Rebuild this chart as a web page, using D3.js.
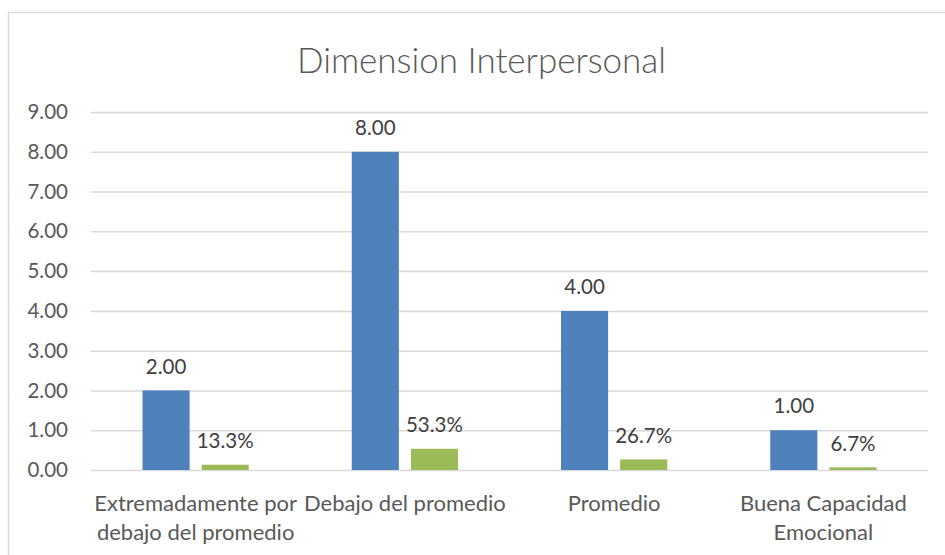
<!DOCTYPE html>
<html>
<head>
<meta charset="utf-8">
<script src="https://cdn.jsdelivr.net/npm/d3@7"></script>
<style>
  html, body { margin: 0; padding: 0; background: #fff; }
  svg { display: block; }
  text { font-family: Lato, "Open Sans", sans-serif; fill: #595959; }
</style>
</head>
<body>
<svg id="chart" width="945" height="555"></svg>
<script>
// Category names and the lines each axis label is broken into
const categories = [
  "Extremadamente por debajo del promedio",
  "Debajo del promedio",
  "Promedio",
  "Buena Capacidad Emocional"
];
const categoryLines = [
  ["Extremadamente por", "debajo del promedio"],
  ["Debajo del promedio"],
  ["Promedio"],
  ["Buena Capacidad", "Emocional"]
];
// Counts per category
const counts = [2, 8, 4, 1];
// Share of the total, in percent
const percents = [13.3, 53.3, 26.7, 6.7];
// Y axis ticks
const yTicks = [0, 1, 2, 3, 4, 5, 6, 7, 8, 9];
const series = ["count", "percent"];
const title = "Dimension Interpersonal";

const svg = d3.select("#chart");
const W = 945, H = 555;
const plot = { left: 91, right: 928, top: 112, bottom: 470 };

// Chart-area frame
svg.append("rect")
  .attr("x", 8.5).attr("y", 12.5)
  .attr("width", W + 10).attr("height", H + 10)
  .attr("fill", "#fff").attr("stroke", "#d9d9d9").attr("stroke-width", 1.5);

const x = d3.scaleBand().domain(categories).range([plot.left, plot.right]);
const bw = x.bandwidth();
const xs = d3.scaleBand().domain(series)
  .range([51.5, bw - 51.5]).paddingInner(12 / 59);
const y = d3.scaleLinear().domain([0, 9]).range([plot.bottom, plot.top]);

// Title
svg.append("text")
  .attr("x", 481.5).attr("y", 73)
  .attr("text-anchor", "middle")
  .style("font-size", "35px")
  .style("font-weight", 300)
  .text(title);

// Gridlines and tick labels
const yAxis = d3.axisLeft(y).tickValues(yTicks)
  .tickSize(-(plot.right - plot.left)).tickPadding(23)
  .tickFormat(d3.format(".2f"));
const gy = svg.append("g").attr("transform", `translate(${plot.left},0)`).call(yAxis);
gy.select(".domain").remove();
gy.selectAll(".tick line").attr("stroke", "#d9d9d9").attr("stroke-width", 1.5);
gy.selectAll(".tick text").style("font-size", "20.5px").attr("fill", "#595959");

const rows = categories.map((c, i) => ({
  c, lines: categoryLines[i],
  vals: [
    { s: "count", v: counts[i], label: d3.format(".2f")(counts[i]) },
    { s: "percent", v: percents[i] / 100, label: percents[i].toFixed(1) + "%" }
  ]
}));
const color = { count: "#4f81bd", percent: "#9bbb59" };

const g = svg.selectAll("g.cat").data(rows).join("g")
  .attr("class", "cat")
  .attr("transform", d => `translate(${x(d.c)},0)`);

g.selectAll("rect").data(d => d.vals).join("rect")
  .attr("x", d => xs(d.s))
  .attr("width", xs.bandwidth())
  .attr("y", d => y(d.v))
  .attr("height", d => y(0) - y(d.v))
  .attr("fill", d => color[d.s]);

// Value labels above each bar
g.selectAll("text.val").data(d => d.vals).join("text")
  .attr("class", "val")
  .attr("x", d => xs(d.s) + xs.bandwidth() / 2)
  .attr("y", d => y(d.v) - 24)
  .attr("dy", "0.35em")
  .attr("text-anchor", "middle")
  .style("font-size", "20.5px")
  .style("fill", "#404040")
  .text(d => d.label);

// Category labels
g.append("text")
  .attr("text-anchor", "middle")
  .style("font-size", "22px")
  .selectAll("tspan").data(d => d.lines).join("tspan")
  .attr("x", bw / 2)
  .attr("y", (d, i) => 503 + i * 29)
  .attr("dy", "0.35em")
  .text(d => d);
</script>
</body>
</html>
